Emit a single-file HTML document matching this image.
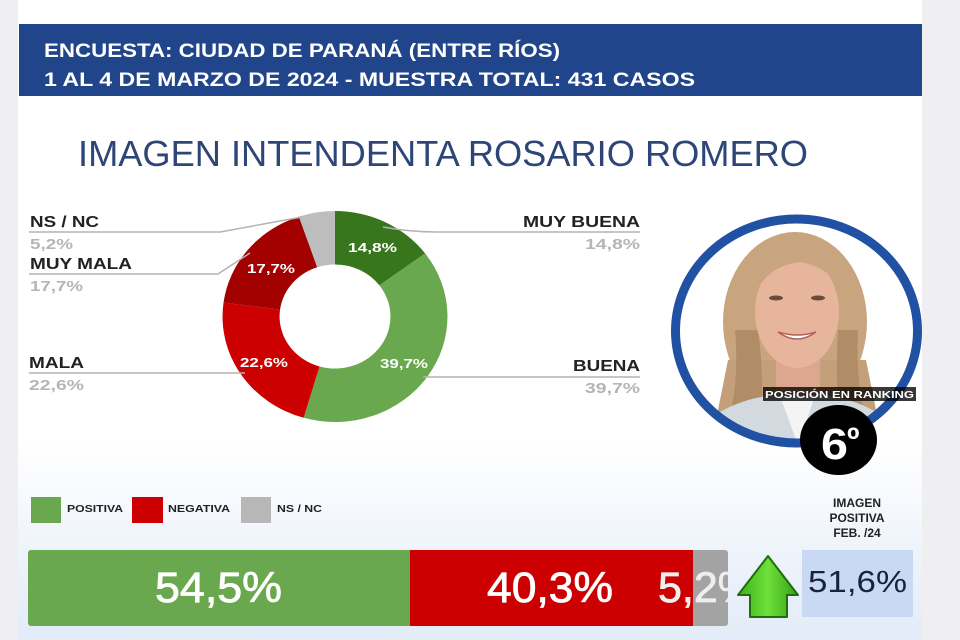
<!DOCTYPE html>
<html>
<head>
<meta charset="utf-8">
<style>
html,body{margin:0;padding:0;background:#efeef1;}
svg{display:block;}
text{font-family:"Liberation Sans",Arial,sans-serif;}
</style>
</head>
<body>
<svg width="960" height="640" viewBox="0 0 960 640" xmlns="http://www.w3.org/2000/svg">
<defs>
<linearGradient id="bg" x1="0" y1="0" x2="0" y2="1">
<stop offset="0" stop-color="#ffffff"/>
<stop offset="1" stop-color="#e2ebf8"/>
</linearGradient>
<linearGradient id="arr" x1="0" y1="0" x2="1" y2="0">
<stop offset="0" stop-color="#3fb01c"/>
<stop offset="0.5" stop-color="#6ee03a"/>
<stop offset="1" stop-color="#34a016"/>
</linearGradient>
<clipPath id="photo"><ellipse cx="796.5" cy="331" rx="117" ry="108"/></clipPath>
<clipPath id="barclip"><rect x="28" y="550" width="700" height="76" rx="3"/></clipPath>
</defs>

<!-- background strips and card -->
<rect x="0" y="0" width="960" height="640" fill="#efeef1"/>
<rect x="18" y="0" width="904" height="640" fill="#ffffff"/>
<rect x="18" y="440" width="904" height="200" fill="url(#bg)"/>

<!-- header band -->
<rect x="19" y="24" width="903" height="72" fill="#21458a"/>
<text x="44" y="57" font-size="19" font-weight="bold" fill="#ffffff" textLength="516" lengthAdjust="spacingAndGlyphs">ENCUESTA: CIUDAD DE PARANÁ (ENTRE RÍOS)</text>
<text x="44" y="86" font-size="19" font-weight="bold" fill="#ffffff" textLength="651" lengthAdjust="spacingAndGlyphs">1 AL 4 DE MARZO DE 2024 - MUESTRA TOTAL: 431 CASOS</text>

<!-- title -->
<text x="78" y="166" font-size="36" fill="#2d4677" textLength="730" lengthAdjust="spacingAndGlyphs">IMAGEN INTENDENTA  ROSARIO ROMERO</text>

<!-- donut -->
<g transform="translate(335,316.5) scale(1.066,1)">
<path d="M0,-105.5 A105.5,105.5 0 0 1 84.56,-63.09 L41.68,-31.10 A52,52 0 0 0 0,-52 Z" fill="#38761d"/>
<path d="M84.56,-63.09 A105.5,105.5 0 0 1 -29.43,101.31 L-14.51,49.94 A52,52 0 0 0 41.68,-31.10 Z" fill="#6aa84f"/>
<path d="M-29.43,101.31 A105.5,105.5 0 0 1 -104.58,-13.88 L-51.55,-6.84 A52,52 0 0 0 -14.51,49.94 Z" fill="#cc0000"/>
<path d="M-104.58,-13.88 A105.5,105.5 0 0 1 -33.85,-99.92 L-16.69,-49.25 A52,52 0 0 0 -51.55,-6.84 Z" fill="#a30000"/>
<path d="M-33.85,-99.92 A105.5,105.5 0 0 1 0,-105.5 L0,-52 A52,52 0 0 0 -16.69,-49.25 Z" fill="#bdbdbd"/>
</g>
<text x="348" y="252" font-size="13" font-weight="bold" fill="#ffffff" textLength="49" lengthAdjust="spacingAndGlyphs">14,8%</text>
<text x="380" y="368" font-size="13" font-weight="bold" fill="#ffffff" textLength="48" lengthAdjust="spacingAndGlyphs">39,7%</text>
<text x="240" y="367" font-size="13" font-weight="bold" fill="#ffffff" textLength="48" lengthAdjust="spacingAndGlyphs">22,6%</text>
<text x="247" y="273" font-size="13" font-weight="bold" fill="#ffffff" textLength="48" lengthAdjust="spacingAndGlyphs">17,7%</text>

<!-- leader lines -->
<g fill="none" stroke="#b3b3b3" stroke-width="1.5">
<path d="M29,232 L220,232 L302,217"/>
<path d="M29,274 L218,274 L250,253"/>
<path d="M29,373 L245,373"/>
<path d="M383,227 Q410,232 437,232 L640,232"/>
<path d="M423,377 L640,377"/>
</g>

<!-- left labels -->
<g font-weight="bold" font-size="16">
<text x="30" y="227" fill="#222" textLength="69" lengthAdjust="spacingAndGlyphs">NS / NC</text>
<text x="30" y="249" fill="#b5b5b5" font-size="15" textLength="43" lengthAdjust="spacingAndGlyphs">5,2%</text>
<text x="30" y="269" fill="#222" textLength="102" lengthAdjust="spacingAndGlyphs">MUY MALA</text>
<text x="30" y="291" fill="#b5b5b5" font-size="15" textLength="53" lengthAdjust="spacingAndGlyphs">17,7%</text>
<text x="29" y="368" fill="#222" textLength="55" lengthAdjust="spacingAndGlyphs">MALA</text>
<text x="29" y="390" fill="#b5b5b5" font-size="15" textLength="55" lengthAdjust="spacingAndGlyphs">22,6%</text>
<!-- right labels -->
<text x="523" y="227" fill="#222" textLength="117" lengthAdjust="spacingAndGlyphs">MUY BUENA</text>
<text x="585" y="249" fill="#b5b5b5" font-size="15" textLength="55" lengthAdjust="spacingAndGlyphs">14,8%</text>
<text x="573" y="371" fill="#222" textLength="67" lengthAdjust="spacingAndGlyphs">BUENA</text>
<text x="585" y="393" fill="#b5b5b5" font-size="15" textLength="55" lengthAdjust="spacingAndGlyphs">39,7%</text>
</g>

<!-- photo -->
<ellipse cx="796.5" cy="331" rx="117" ry="108" fill="#ffffff"/>
<g clip-path="url(#photo)">
<ellipse cx="795" cy="322" rx="72" ry="90" fill="#c8a47f"/>
<path d="M728,360 L712,440 L882,440 L866,360 Z" fill="#c3a07a"/>
<path d="M735,330 Q740,390 725,430 L760,430 Q765,380 758,330 Z" fill="#b08d66"/>
<path d="M858,330 Q855,390 870,430 L840,430 Q835,380 838,330 Z" fill="#b08d66"/>
<rect x="776" y="345" width="44" height="60" fill="#dca78e"/>
<ellipse cx="797" cy="312" rx="42" ry="56" fill="#e7b59b"/>
<path d="M752,300 Q760,252 797,250 Q838,252 845,300 Q835,268 800,262 Q765,266 752,300 Z" fill="#c8a47f"/>
<ellipse cx="776" cy="298" rx="7" ry="2.5" fill="#6a4a3a"/>
<ellipse cx="818" cy="298" rx="7" ry="2.5" fill="#6a4a3a"/>
<path d="M778,332 Q797,346 816,332 Q797,338 778,332 Z" fill="#ffffff" stroke="#b5605a" stroke-width="1.5"/>
<path d="M700,425 Q735,398 776,395 L820,395 Q862,398 895,425 L895,460 L700,460 Z" fill="#d2d9df"/>
<path d="M780,396 L798,445 L815,396 Z" fill="#f4f4f4"/>
</g>
<ellipse cx="796.5" cy="331" rx="121" ry="112" fill="none" stroke="#2151a3" stroke-width="9"/>
<rect x="763" y="387" width="153" height="14" fill="#000000" fill-opacity="0.78"/>
<text x="765" y="398" font-size="10.5" font-weight="bold" fill="#ffffff" textLength="149" lengthAdjust="spacingAndGlyphs">POSICIÓN EN RANKING</text>
<ellipse cx="838.5" cy="440" rx="38.5" ry="35" fill="#000000"/>
<text x="821" y="459" font-size="44" font-weight="bold" fill="#ffffff" textLength="27" lengthAdjust="spacingAndGlyphs">6</text>
<text x="847" y="451" font-size="34" font-weight="bold" fill="#ffffff">º</text>

<!-- legend -->
<rect x="31" y="497" width="30" height="26" fill="#6aa84f"/>
<rect x="132" y="497" width="31" height="26" fill="#cc0000"/>
<rect x="241" y="497" width="30" height="26" fill="#b7b7b7"/>
<g font-size="10.5" font-weight="bold" fill="#222">
<text x="67" y="512" textLength="56" lengthAdjust="spacingAndGlyphs">POSITIVA</text>
<text x="168" y="512" textLength="62" lengthAdjust="spacingAndGlyphs">NEGATIVA</text>
<text x="277" y="512" textLength="45" lengthAdjust="spacingAndGlyphs">NS / NC</text>
</g>

<!-- stacked bar -->
<g clip-path="url(#barclip)">
<rect x="28" y="550" width="382" height="76" fill="#6aa84f"/>
<rect x="410" y="550" width="283" height="76" fill="#cc0000"/>
<rect x="693" y="550" width="35" height="76" fill="#a3a3a3"/>
<text x="155" y="602" font-size="43" fill="#ffffff" stroke="#ffffff" stroke-width="0.8" textLength="127" lengthAdjust="spacingAndGlyphs">54,5%</text>
<text x="487" y="602" font-size="43" fill="#ffffff" stroke="#ffffff" stroke-width="0.8" textLength="126" lengthAdjust="spacingAndGlyphs">40,3%</text>
<text x="658" y="602" font-size="43" fill="#eeeeee" stroke="#eeeeee" stroke-width="0.8">5,2%</text>
</g>

<!-- arrow -->
<path d="M768,556 L798,595 L787,595 L787,617 L750,617 L750,595 L738,595 Z" fill="url(#arr)" stroke="#1f6e0e" stroke-width="2" stroke-linejoin="round"/>

<!-- previous value -->
<rect x="802" y="550" width="111" height="67" fill="#c9d9f3"/>
<text x="808" y="592" font-size="31" fill="#18223d" textLength="99" lengthAdjust="spacingAndGlyphs">51,6%</text>
<g font-size="12" font-weight="bold" fill="#222" text-anchor="middle">
<text x="857" y="507">IMAGEN</text>
<text x="857" y="522">POSITIVA</text>
<text x="857" y="537">FEB. /24</text>
</g>
</svg>
</body>
</html>
